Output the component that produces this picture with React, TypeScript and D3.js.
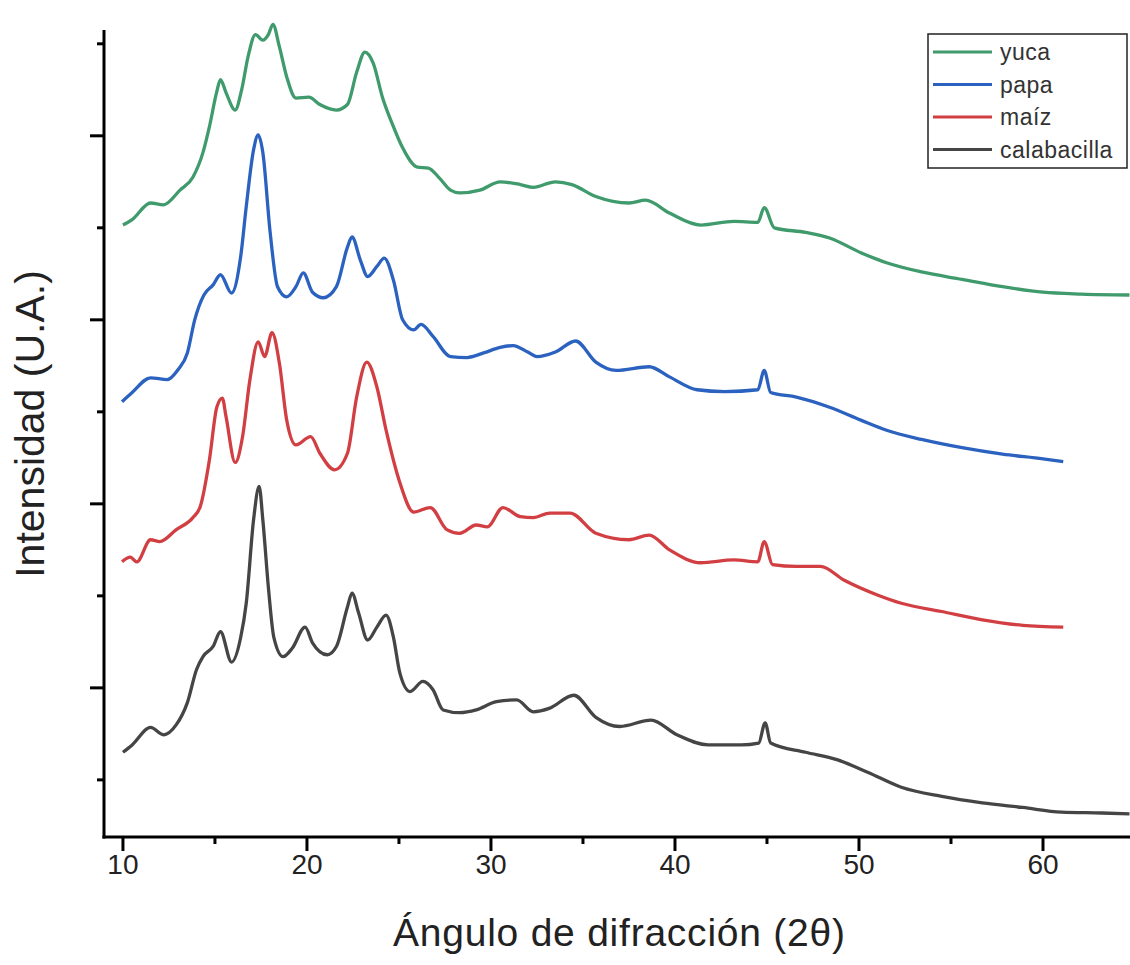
import React from "react";
import * as d3 from "d3";

// Diffraction angle (2θ, degrees) and intensity (a.u.) for each starch sample
const yucaAngle = [10.0, 10.5, 11.5, 12.2, 13.1, 13.8, 14.35, 14.7, 15.1, 15.3, 15.6, 16.1, 16.45, 16.8, 17.2, 17.6, 17.9, 18.15, 18.5, 18.9, 19.4, 20.1, 20.7, 21.6, 22.2, 22.7, 23.15, 23.6, 24.1, 24.7, 25.2, 26.0, 26.6, 27.2, 27.8, 28.3, 29.4, 30.5, 31.6, 32.3, 33.5, 34.4, 35.7, 37.5, 38.4, 39.7, 41.4, 43.2, 44.5, 44.85, 45.4, 47.1, 48.4, 50.1, 51.5, 53.4, 55.6, 57.8, 60.0, 62.1, 64.7];
const yucaIntensity = [703, 709, 727, 725, 741, 755, 782, 810, 848, 861, 847, 828, 850, 886, 910, 904, 910, 921, 897, 864, 841, 842, 834, 828, 834, 869, 891, 879, 842, 810, 787, 766, 765, 754, 741, 738, 741, 750, 747, 744, 750, 747, 734, 727, 730, 716, 703, 707, 706, 722, 700, 695, 689, 673, 662, 652, 644, 636, 630, 628, 627];

const papaAngle = [9.95, 10.5, 11.5, 12.4, 13.0, 13.5, 13.9, 14.4, 14.9, 15.3, 15.9, 16.4, 16.7, 17.1, 17.35, 17.6, 18.0, 18.4, 18.9, 19.4, 19.8, 20.3, 20.9, 21.6, 22.2, 22.45, 22.9, 23.3, 23.8, 24.2, 24.7, 25.2, 25.8, 26.2, 26.85, 27.8, 28.7, 29.6, 30.5, 31.2, 32.0, 32.5, 33.5, 34.6, 35.7, 36.8, 38.6, 39.7, 41.2, 42.7, 44.5, 44.85, 45.2, 46.6, 48.4, 50.1, 51.5, 53.4, 55.6, 57.8, 60.0, 61.1];
const papaIntensity = [511, 521, 537, 535, 546, 564, 600, 627, 638, 649, 629, 669, 723, 785, 801, 782, 695, 636, 625, 636, 651, 630, 624, 636, 679, 690, 665, 647, 658, 667, 643, 600, 589, 595, 582, 560, 559, 564, 570, 572, 565, 560, 565, 577, 554, 545, 549, 538, 524, 522, 524, 545, 521, 516, 505, 491, 480, 470, 461, 454, 449, 446];

const maizAngle = [9.95, 10.4, 10.75, 11.5, 12.0, 12.9, 13.8, 14.2, 14.7, 15.1, 15.4, 15.6, 16.1, 16.5, 16.9, 17.35, 17.7, 18.1, 18.5, 18.9, 19.4, 20.2, 20.7, 21.5, 22.2, 22.7, 23.25, 23.8, 24.3, 25.05, 25.8, 26.7, 27.6, 28.3, 29.2, 29.8, 30.65, 31.6, 32.3, 33.2, 34.3, 35.7, 37.5, 38.6, 39.7, 41.4, 43.2, 44.5, 44.85, 45.3, 46.6, 47.9, 49.2, 51.0, 52.3, 54.5, 56.7, 58.9, 61.1];
const maizIntensity = [337, 342, 337, 361, 359, 372, 385, 397, 448, 505, 515, 495, 445, 473, 535, 576, 560, 586, 553, 491, 464, 473, 455, 437, 455, 516, 554, 527, 480, 423, 391, 396, 372, 368, 377, 375, 396, 386, 385, 390, 390, 368, 361, 366, 350, 336, 339, 337, 359, 334, 332, 332, 317, 301, 292, 283, 274, 268, 266];

const calabacillaAngle = [10.0, 10.5, 11.5, 12.2, 12.9, 13.5, 14.0, 14.35, 14.9, 15.3, 15.9, 16.4, 16.7, 17.1, 17.4, 17.6, 17.9, 18.2, 18.7, 19.2, 19.9, 20.3, 21.1, 21.6, 22.2, 22.45, 22.8, 23.3, 23.8, 24.3, 24.7, 25.05, 25.6, 26.3, 26.85, 27.4, 28.3, 29.2, 30.3, 31.4, 32.3, 33.2, 34.5, 35.7, 37.0, 38.7, 40.1, 41.8, 43.6, 44.55, 44.9, 45.2, 47.1, 48.8, 50.5, 52.3, 54.5, 56.7, 58.9, 61.0, 63.2, 64.7];
const calabacillaIntensity = [130, 138, 157, 149, 160, 184, 220, 234, 245, 261, 228, 255, 292, 383, 419, 383, 310, 255, 234, 243, 266, 249, 236, 245, 288, 303, 282, 252, 266, 279, 255, 216, 196, 207, 198, 176, 173, 176, 185, 187, 174, 178, 192, 168, 158, 165, 149, 138, 138, 140, 162, 140, 130, 122, 108, 92, 82, 75, 70, 65, 64, 63];

const seriesNames = ["yuca", "papa", "maíz", "calabacilla"];
const seriesColors = ["#3f9a6c", "#2b62bf", "#d23f43", "#454545"];

const xMajorTicks = [10, 20, 30, 40, 50, 60];
const xMinorTicks = [15, 25, 35, 45, 55];
const yMajorTicks = [200, 400, 600, 800];
const yMinorTicks = [100, 300, 500, 700, 900];

const xTitle = "Ángulo de difracción (2θ)";
const yTitle = "Intensidad (U.A.)";

const WIDTH = 1130;
const HEIGHT = 965;

export default function App() {
  const x = d3.scaleLinear().domain([8.97, 65]).range([104, 1135]);
  const y = d3.scaleLinear().domain([39, 915]).range([836, 30]);

  const series = [
    { angle: yucaAngle, intensity: yucaIntensity },
    { angle: papaAngle, intensity: papaIntensity },
    { angle: maizAngle, intensity: maizIntensity },
    { angle: calabacillaAngle, intensity: calabacillaIntensity },
  ];

  const line = d3
    .line<[number, number]>()
    .x((d) => x(d[0]))
    .y((d) => y(d[1]))
    .curve(d3.curveMonotoneX);

  const axisLeft = x.range()[0];
  const axisBottom = y.range()[0] + 1;
  const font = "'Liberation Sans', Arial, sans-serif";

  const legendX = 928;
  const legendY = 34;
  const rowH = 32.5;

  return (
    <svg
      width={WIDTH}
      height={HEIGHT}
      style={{ position: "absolute", left: 0, top: 0, background: "#fff" }}
    >
      <rect width={WIDTH} height={HEIGHT} fill="#fff" />

      {/* diffraction patterns, bottom sample drawn first */}
      {series
        .map((s, i) => ({ s, i }))
        .reverse()
        .map(({ s, i }) => (
          <path
            key={seriesNames[i]}
            d={line(s.angle.map((a, k) => [a, s.intensity[k]] as [number, number])) || ""}
            fill="none"
            stroke={seriesColors[i]}
            strokeWidth={3.3}
            strokeLinejoin="round"
          />
        ))}

      {/* axes */}
      <line x1={axisLeft} x2={axisLeft} y1={30} y2={axisBottom + 1.5} stroke="#000" strokeWidth={3} />
      <line x1={axisLeft - 1.5} x2={WIDTH} y1={axisBottom} y2={axisBottom} stroke="#000" strokeWidth={3} />

      {xMajorTicks.map((t) => (
        <g key={"xM" + t}>
          <line x1={x(t)} x2={x(t)} y1={axisBottom} y2={axisBottom + 14} stroke="#000" strokeWidth={3} />
          <text x={x(t)} y={874} textAnchor="middle" fontFamily={font} fontSize={28} fill="#222">
            {t}
          </text>
        </g>
      ))}
      {xMinorTicks.map((t) => (
        <line key={"xm" + t} x1={x(t)} x2={x(t)} y1={axisBottom} y2={axisBottom + 7} stroke="#000" strokeWidth={3} />
      ))}
      {yMajorTicks.map((t) => (
        <line key={"yM" + t} x1={axisLeft - 14} x2={axisLeft} y1={y(t)} y2={y(t)} stroke="#000" strokeWidth={3} />
      ))}
      {yMinorTicks.map((t) => (
        <line key={"ym" + t} x1={axisLeft - 7} x2={axisLeft} y1={y(t)} y2={y(t)} stroke="#000" strokeWidth={3} />
      ))}

      {/* axis titles */}
      <text
        x={619}
        y={946}
        textAnchor="middle"
        fontFamily={font}
        fontSize={39}
        textLength={452}
        lengthAdjust="spacing"
        fill="#222"
      >
        {xTitle}
      </text>
      <text
        transform="translate(44,424) rotate(-90)"
        textAnchor="middle"
        fontFamily={font}
        fontSize={41}
        fill="#222"
      >
        {yTitle}
      </text>

      {/* legend */}
      <rect x={legendX} y={legendY} width={199} height={134} fill="#fff" stroke="#222" strokeWidth={1.5} />
      {seriesNames.map((name, i) => {
        const cy = legendY + 18 + i * rowH;
        return (
          <g key={"lg" + name}>
            <line x1={legendX + 5} x2={legendX + 64} y1={cy} y2={cy} stroke={seriesColors[i]} strokeWidth={3} />
            <text
              x={legendX + 72}
              y={cy}
              dominantBaseline="central"
              fontFamily={font}
              fontSize={23}
              letterSpacing={0.5}
              fill="#333"
            >
              {name}
            </text>
          </g>
        );
      })}
    </svg>
  );
}
